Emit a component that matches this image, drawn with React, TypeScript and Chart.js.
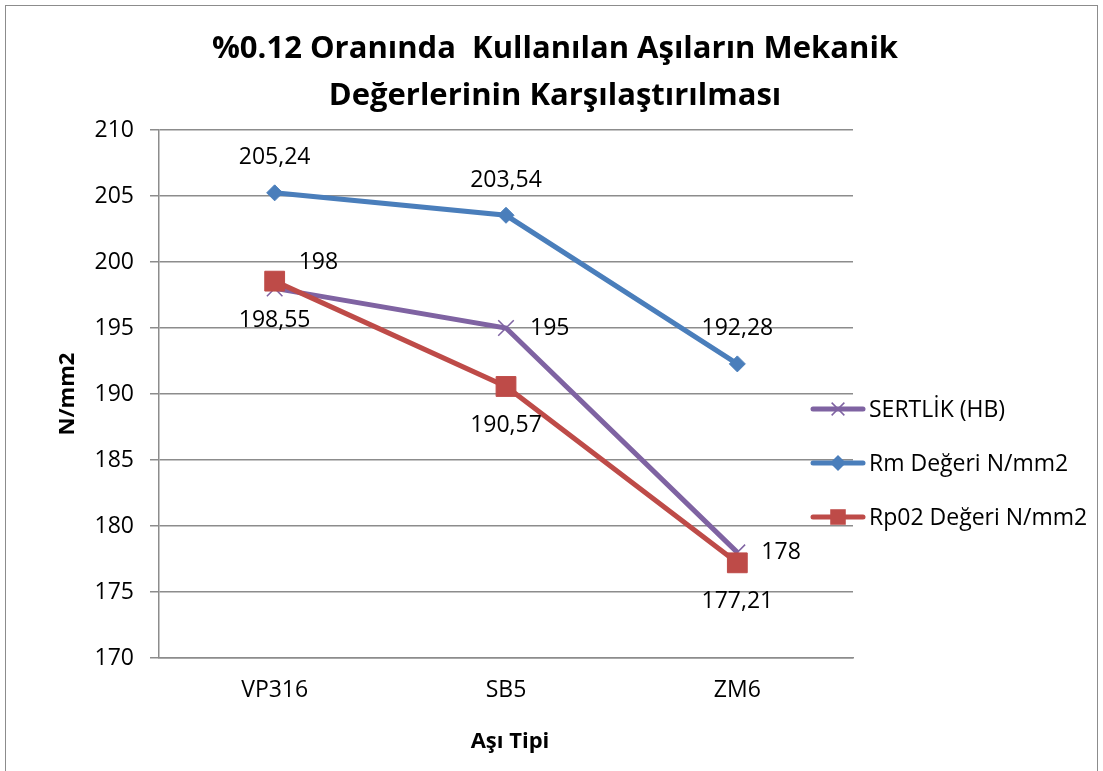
import React, { useEffect, useRef } from "react";
import { Chart, registerables } from "chart.js";

Chart.register(...registerables);

const categories = ["VP316", "SB5", "ZM6"];
const sertlik = [198, 195, 178];
const rmDegeri = [205.24, 203.54, 192.28];
const rp02Degeri = [198.55, 190.57, 177.21];
const seriesNames = ["SERTLİK (HB)", "Rm Değeri N/mm2", "Rp02 Değeri N/mm2"];
const seriesColors = ["#7F63A2", "#4A7EBB", "#BE4B48"];
const titleLines = ["%0.12 Oranında  Kullanılan Aşıların Mekanik", "Değerlerinin Karşılaştırılması"];
const yTitle = "N/mm2";
const xTitle = "Aşı Tipi";
const yMin = 170;
const yMax = 210;
const yStep = 5;

const FONT = "'Open Sans', 'Noto Sans', sans-serif";

const fmt = (v: number) => String(v).replace(".", ",");

const overlayPlugin = {
  id: "overlay",
  afterDatasetsDraw(chart: any) {
    const ctx = chart.ctx;
    ctx.save();
    ctx.fillStyle = "#000";
    ctx.textBaseline = "middle";
    ctx.font = `23px ${FONT}`;
    const m0 = chart.getDatasetMeta(0);
    const m1 = chart.getDatasetMeta(1);
    const m2 = chart.getDatasetMeta(2);
    // SERTLİK: right
    m0.data.forEach((p: any, i: number) => {
      ctx.textAlign = "left";
      const dy = i === 0 ? -26 : 0;
      ctx.fillText(fmt(sertlik[i]), p.x + 24, p.y + dy);
    });
    // Rm: above
    m1.data.forEach((p: any, i: number) => {
      ctx.textAlign = "center";
      ctx.fillText(fmt(rmDegeri[i]), p.x, p.y - 35);
    });
    // Rp02: below
    m2.data.forEach((p: any, i: number) => {
      ctx.textAlign = "center";
      ctx.fillText(fmt(rp02Degeri[i]), p.x, p.y + 39);
    });
    ctx.restore();
  },
  afterDraw(chart: any) {
    const ctx = chart.ctx;
    const ca = chart.chartArea;
    ctx.save();
    // outer border
    ctx.strokeStyle = "#8C8C8C";
    ctx.lineWidth = 1;
    ctx.strokeRect(5.5, 5.5, 1092, 780);
    ctx.fillStyle = "#000";
    ctx.textAlign = "center";
    ctx.textBaseline = "middle";
    // title
    ctx.font = `bold 31px ${FONT}`;
    ctx.fillText(titleLines[0], 555, 49);
    ctx.fillText(titleLines[1], 555, 96);
    // x title
    ctx.font = `bold 22px ${FONT}`;
    ctx.fillText(xTitle, (ca.left + ca.right) / 2 + 4, 742);
    // y title
    ctx.save();
    ctx.translate(68, (ca.top + ca.bottom) / 2);
    ctx.rotate(-Math.PI / 2);
    ctx.fillText(yTitle, 0, 0);
    ctx.restore();
    // legend
    const rows = [409, 463, 517];
    const styles = ["crossRot", "rectRot", "rect"];
    const radii = [9, 8, 11];
    rows.forEach((y, i) => {
      ctx.strokeStyle = seriesColors[i];
      ctx.lineWidth = 5;
      ctx.lineCap = "round";
      ctx.beginPath();
      ctx.moveTo(813, y);
      ctx.lineTo(863, y);
      ctx.stroke();
      ctx.lineCap = "butt";
      ctx.fillStyle = seriesColors[i];
      ctx.lineWidth = 1.5;
      const cx = 838;
      if (styles[i] === "crossRot") {
        const d = radii[i] * Math.SQRT1_2;
        ctx.beginPath();
        ctx.moveTo(cx - d, y - d);
        ctx.lineTo(cx + d, y + d);
        ctx.moveTo(cx - d, y + d);
        ctx.lineTo(cx + d, y - d);
        ctx.stroke();
      } else if (styles[i] === "rectRot") {
        const r = radii[i];
        ctx.beginPath();
        ctx.moveTo(cx - r, y);
        ctx.lineTo(cx, y - r);
        ctx.lineTo(cx + r, y);
        ctx.lineTo(cx, y + r);
        ctx.closePath();
        ctx.fill();
      } else {
        const s = radii[i] * Math.SQRT1_2;
        ctx.fillRect(cx - s, y - s, 2 * s, 2 * s);
      }
      ctx.fillStyle = "#000";
      ctx.textAlign = "left";
      ctx.font = `23px ${FONT}`;
      ctx.fillText(seriesNames[i], 869, y + 1);
    });
    ctx.restore();
  },
};

export default function App() {
  const ref = useRef<HTMLCanvasElement | null>(null);
  useEffect(() => {
    if (!ref.current) return;
    const chart = new Chart(ref.current, {
      type: "line",
      data: {
        labels: categories,
        datasets: [
          {
            label: seriesNames[0],
            data: sertlik,
            borderColor: seriesColors[0],
            backgroundColor: seriesColors[0],
            borderWidth: 5,
            pointStyle: "crossRot",
            pointRadius: 11,
            pointBorderWidth: 1.5,
            order: 3,
          },
          {
            label: seriesNames[1],
            data: rmDegeri,
            borderColor: seriesColors[1],
            backgroundColor: seriesColors[1],
            borderWidth: 5,
            pointStyle: "rectRot",
            pointRadius: 8,
            pointBorderWidth: 1,
            order: 2,
          },
          {
            label: seriesNames[2],
            data: rp02Degeri,
            borderColor: seriesColors[2],
            backgroundColor: seriesColors[2],
            borderWidth: 5,
            pointStyle: "rect",
            pointRadius: 14,
            pointBorderWidth: 1,
            order: 1,
          },
        ],
      },
      options: {
        animation: false,
        responsive: false,
        maintainAspectRatio: false,
        layout: { padding: { left: 0, right: 250, top: 130, bottom: 0 } },
        plugins: {
          legend: { display: false },
          title: { display: false },
          tooltip: { enabled: false },
        },
        scales: {
          x: {
            offset: true,
            grid: { display: false, drawTicks: false, tickLength: 0 },
            border: { display: true, color: "#8C8C8C", width: 1.5 },
            ticks: { color: "#000", font: { family: FONT, size: 23 }, padding: 19 },
            afterFit: (s: any) => {
              s.height = 113;
            },
          },
          y: {
            min: yMin,
            max: yMax,
            grid: { color: "#8C8C8C", lineWidth: 1.5, tickLength: 9 },
            border: { display: true, color: "#8C8C8C", width: 1.5 },
            ticks: {
              stepSize: yStep,
              color: "#000",
              font: { family: FONT, size: 23 },
              padding: 16,
            },
            afterFit: (s: any) => {
              s.width = 159;
            },
          },
        },
      },
      plugins: [overlayPlugin],
    });
    return () => chart.destroy();
  }, []);
  return (
    <div style={{ position: "fixed", left: 0, top: 0, width: 1103, height: 771, background: "#fff" }}>
      <canvas ref={ref} width={1103} height={771} style={{ width: 1103, height: 771 }} />
    </div>
  );
}
